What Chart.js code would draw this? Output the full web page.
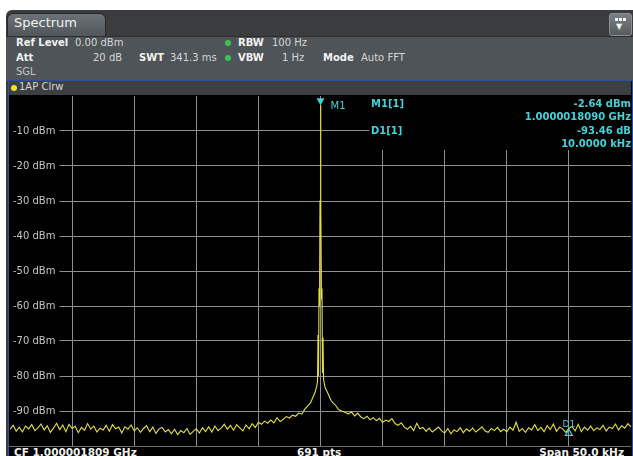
<!DOCTYPE html>
<html>
<head>
<meta charset="utf-8">
<script src="https://cdn.jsdelivr.net/npm/chart.js@4.4.1/dist/chart.umd.min.js"></script>
<style>
  body { margin: 0; width: 633px; height: 456px; overflow: hidden; background: #fff; position: relative; font-family: "DejaVu Sans", sans-serif; }
  .abs { position: absolute; white-space: nowrap; }
  #frame { left: 6px; top: 10px; width: 627px; height: 446px; background: #3a3c3e; border-top-left-radius: 6px; }
  #tab { left: 7px; top: 13px; width: 97px; height: 23px; border-radius: 6px 6px 0 0; background: linear-gradient(#6c7275, #4f5558); border: 1px solid #26282a; border-bottom: none; }
  #panel { left: 6px; top: 36px; width: 627px; height: 44px; background: #4e5457; border-top: 1px solid #2b2d2f; }
  #win { left: 8px; top: 80px; width: 623px; height: 376px; background: #000; border: 1px solid #2c4f9e; border-bottom: none; }
  #title { left: 9px; top: 81px; width: 622px; height: 14px; background: #3c4043; }
  .lbl { font-size: 10px; color: #d6d6d6; }
  .b { font-weight: bold; color: #f2f2f2; }
  .dot { width: 6px; height: 6px; border-radius: 50%; background: #3cc45a; }
  #icon { left: 609px; top: 13px; width: 21px; height: 21px; border-radius: 3px; background: linear-gradient(#7a8083, #555b5e); border: 1px solid #8a8f92; }
  .sq { top: 4px; width: 3px; height: 3px; background: #f4f4f4; }
  #mk { left: 369px; top: 96px; width: 262px; height: 54px; background: #000; }
  .cy { color: #3fd2d8; font-size: 10px; font-weight: bold; }
  #bottom { left: 9px; top: 446px; width: 622px; height: 10px; background: #000; border-top: 1px solid #6a6a6a; }
  .bt { font-size: 10.5px; font-weight: bold; color: #f0f0f0; top: 446px; }
</style>
</head>
<body>
<div id="frame" class="abs"></div>
<div id="tab" class="abs"></div>
<div class="abs" style="left:14px;top:15px;font-size:13px;color:#f2f2f2;">Spectrum</div>
<div id="icon" class="abs">
  <div class="abs sq" style="left:5px;"></div>
  <div class="abs sq" style="left:9px;"></div>
  <div class="abs sq" style="left:13px;"></div>
  <div class="abs" style="left:6px;top:8px;font-size:8px;color:#f4f4f4;">&#9660;</div>
</div>
<div id="panel" class="abs"></div>
<div class="abs lbl b" style="left:16px;top:37px;">Ref Level</div>
<div class="abs lbl" style="left:75px;top:37px;">0.00 dBm</div>
<div class="abs lbl b" style="left:16px;top:52px;">Att</div>
<div class="abs lbl" style="left:93px;top:52px;">20 dB</div>
<div class="abs lbl b" style="left:139px;top:52px;">SWT</div>
<div class="abs lbl" style="left:170px;top:52px;">341.3 ms</div>
<div class="abs dot" style="left:225px;top:40px;"></div>
<div class="abs dot" style="left:225px;top:55px;"></div>
<div class="abs lbl b" style="left:238px;top:37px;">RBW</div>
<div class="abs lbl" style="left:272px;top:37px;">100 Hz</div>
<div class="abs lbl b" style="left:238px;top:52px;">VBW</div>
<div class="abs lbl" style="left:282px;top:52px;">1 Hz</div>
<div class="abs lbl b" style="left:323px;top:52px;">Mode</div>
<div class="abs lbl" style="left:361px;top:52px;">Auto FFT</div>
<div class="abs lbl" style="left:16px;top:66px;color:#c8c8c8;">SGL</div>
<div id="win" class="abs"></div>
<div id="title" class="abs"></div>
<div class="abs" style="left:11px;top:85px;width:6px;height:6px;border-radius:50%;background:#f0e030;"></div>
<div class="abs lbl" style="left:19px;top:81px;">1AP Clrw</div>
<canvas id="c" class="abs" width="621" height="350" style="left:10px;top:96px;"></canvas>
<div id="mk" class="abs">
  <div class="abs cy" style="left:2px;top:2px;">M1[1]</div>
  <div class="abs cy" style="right:0;top:2px;">-2.64 dBm</div>
  <div class="abs cy" style="right:0;top:15px;">1.0000018090 GHz</div>
  <div class="abs cy" style="left:2px;top:29px;">D1[1]</div>
  <div class="abs cy" style="right:0;top:29px;">-93.46 dB</div>
  <div class="abs cy" style="right:0;top:42px;">10.0000 kHz</div>
</div>
<div id="bottom" class="abs"></div>
<div class="abs bt" style="left:14px;">CF 1.000001809 GHz</div>
<div class="abs bt" style="left:297px;">691 pts</div>
<div class="abs bt" style="right:9px;">Span 50.0 kHz</div>

<script>
// sweep: offset from CF in kHz, level in dBm
const floorStep = 0.25;
const leftStart = -25;
const leftFloor = [
  -95.2,-94.1,-95.8,-94.6,-96.0,-94.3,-95.1,-93.9,-95.6,-94.8,
  -93.7,-95.4,-94.2,-96.1,-94.9,-93.5,-95.3,-94.0,-95.9,-93.8,
  -95.0,-94.4,-96.2,-94.7,-95.5,-93.6,-95.2,-94.3,-96.0,-94.9,
  -95.4,-94.1,-95.8,-93.9,-95.1,-94.6,-96.3,-94.5,-95.2,-94.0,
  -95.7,-94.8,-96.1,-95.0,-94.2,-95.9,-94.6,-96.4,-95.1,-94.7,
  -96.0,-95.3,-96.5,-95.2,-96.8,-95.6,-96.2,-95.0,-96.7,-95.8,
  -95.1,-96.3,-94.8,-95.9,-94.5,-96.0,-94.3,-95.6,-94.9,-93.8,
  -95.2,-94.1,-95.5,-93.9,-94.8,-95.7,-94.0,-95.1,-93.6,-94.7,
  -93.2,-93.8,-92.9,-93.5,-92.6,-93.4,-91.9,-93.0,-92.4,-91.6,
  -92.0,-91.2
];
const peakFreq  = [-2.0, -1.75, -1.5, -1.25, -1.0, -0.8, -0.6, -0.45, -0.3, -0.24, -0.2, -0.16, -0.12, -0.08, -0.04, 0, 0.04, 0.08, 0.12, 0.16, 0.2, 0.25, 0.32, 0.4, 0.55, 0.7, 0.85, 1.0, 1.2, 1.45, 1.7, 2.0];
const peakLevel = [-91.5, -90.6, -90.9, -89.4, -88.5, -87.6, -86.0, -84.8, -82.9, -81.5, -68.3, -80.0, -55.0, -60.0, -30.0, -2.64, -30.0, -58.0, -55.0, -79.0, -69.0, -81.0, -82.5, -83.6, -84.6, -85.8, -87.0, -87.7, -88.3, -89.6, -90.0, -90.4];
const rightStart = 2.25;
const rightFloor = [
  -90.8,-90.3,-91.4,-90.6,-91.7,-92.2,-91.5,-92.5,-91.9,-92.8,
  -92.1,-93.3,-92.6,-93.0,-92.2,-93.6,-94.1,-93.4,-94.6,-95.2,
  -94.4,-95.6,-93.5,-95.1,-94.7,-95.8,-94.9,-96.0,-95.3,-94.6,
  -95.7,-96.3,-95.0,-96.5,-95.4,-95.9,-94.8,-96.2,-95.1,-95.8,
  -94.9,-96.0,-95.3,-94.5,-95.7,-96.1,-95.0,-95.6,-94.7,-95.9,
  -95.2,-96.0,-94.6,-95.5,-93.2,-95.8,-95.0,-96.1,-94.8,-95.4,
  -93.9,-95.6,-94.7,-95.9,-94.2,-95.3,-93.7,-95.8,-94.6,-95.1,
  -96.1,-95.0,-94.4,-95.7,-93.8,-95.9,-94.6,-95.5,-94.3,-95.6,
  -94.8,-95.3,-94.1,-95.7,-94.6,-95.0,-93.7,-95.4,-94.2,-94.9,
  -93.6,-94.5
];
const levelLabels = [-10, -20, -30, -40, -50, -60, -70, -80, -90];
const markerNames = ['M1', 'D1'];
const markerFreq  = [0, 20];
const markerLevel = [-2.64, -96.1];

const trace = [];
leftFloor.forEach((v, i) => trace.push({ x: leftStart + i * floorStep, y: v }));
peakFreq.forEach((f, i) => trace.push({ x: f, y: peakLevel[i] }));
rightFloor.forEach((v, i) => trace.push({ x: rightStart + i * floorStep, y: v }));

const gridCol = '#8e8e8e';
const cyan = '#3fd2d8';

// level labels sit inside the plot, on a black patch that cuts the grid line
const levelLabelPlugin = {
  id: 'levelLabels',
  afterDraw(chart) {
    const ctx = chart.ctx, ys = chart.scales.y, left = chart.chartArea.left;
    ctx.save();
    ctx.font = '10px "DejaVu Sans"';
    ctx.textBaseline = 'middle';
    levelLabels.forEach(v => {
      const t = v + ' dBm', y = ys.getPixelForValue(v), w = ctx.measureText(t).width;
      ctx.fillStyle = '#000';
      ctx.fillRect(left, y - 6, w + 7, 12);
      ctx.fillStyle = '#c4c4c4';
      ctx.fillText(t, left + 3, y);
    });
    ctx.restore();
  }
};

const markerPlugin = {
  id: 'markers',
  afterDatasetsDraw(chart) {
    const ctx = chart.ctx, xs = chart.scales.x, ys = chart.scales.y;
    ctx.save();
    ctx.fillStyle = cyan; ctx.strokeStyle = cyan;
    ctx.font = '10px "DejaVu Sans"';
    // M1: filled triangle pointing down onto the peak
    let px = xs.getPixelForValue(markerFreq[0]), py = ys.getPixelForValue(markerLevel[0]);
    ctx.beginPath();
    ctx.moveTo(px, py); ctx.lineTo(px - 4, py - 7); ctx.lineTo(px + 4, py - 7); ctx.closePath();
    ctx.fill();
    ctx.textBaseline = 'middle';
    ctx.fillText(markerNames[0], px + 10, py + 1);
    // D1: outlined delta on the noise floor
    px = xs.getPixelForValue(markerFreq[1]); py = ys.getPixelForValue(markerLevel[1]);
    ctx.lineWidth = 1.2;
    ctx.beginPath();
    ctx.moveTo(px, py - 3); ctx.lineTo(px - 3.5, py + 3); ctx.lineTo(px + 3.5, py + 3); ctx.closePath();
    ctx.stroke();
    ctx.textAlign = 'center';
    ctx.font = '9px "DejaVu Sans"';
    ctx.fillText(markerNames[1], px, py - 8);
    ctx.restore();
  }
};

new Chart(document.getElementById('c'), {
  type: 'line',
  data: {
    datasets: [{ data: trace, borderColor: '#e4de3e', borderWidth: 1.1, pointRadius: 0, tension: 0, fill: false }]
  },
  options: {
    responsive: false, animation: false,
    layout: { padding: 0 },
    plugins: { legend: { display: false }, tooltip: { enabled: false } },
    scales: {
      x: {
        type: 'linear', min: -25, max: 25,
        ticks: { display: false, stepSize: 5 },
        grid: { color: c => (Math.abs(c.tick.value) === 25 ? 'transparent' : gridCol), drawTicks: false },
        border: { display: false }
      },
      y: {
        min: -100, max: 0,
        ticks: { display: false, stepSize: 10 },
        grid: { color: c => (c.tick.value === 0 || c.tick.value === -100) ? 'transparent' : gridCol, drawTicks: false },
        border: { display: false }
      }
    }
  },
  plugins: [markerPlugin, levelLabelPlugin]
});
</script>
</body>
</html>
